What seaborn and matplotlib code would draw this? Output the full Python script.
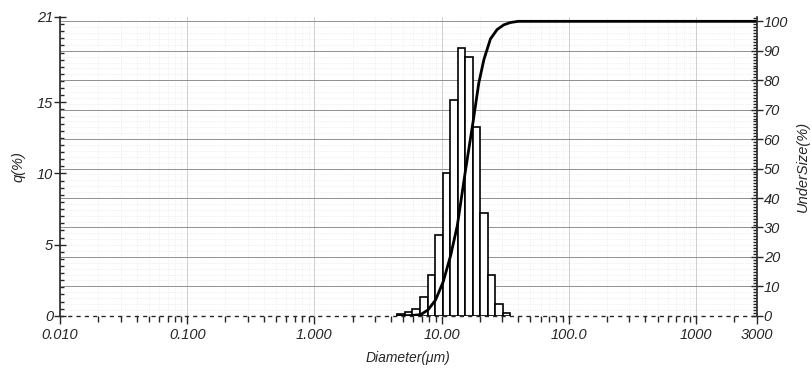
import matplotlib
matplotlib.use('Agg')
import matplotlib.pyplot as plt
import matplotlib.ticker as mticker
import seaborn as sns
import pandas as pd
import numpy as np

# bin edges (um) and frequency q(%)
bin_edges = [4.49, 5.15, 5.90, 6.76, 7.75, 8.88, 10.2, 11.7, 13.4, 15.3,
             17.6, 20.1, 23.1, 26.4, 30.3, 34.8]
q_pct = [0.1, 0.25, 0.5, 1.3, 2.85, 5.7, 10.05, 15.15, 18.8, 18.15,
         13.3, 7.25, 2.9, 0.85, 0.2]

# cumulative undersize curve (um, %)
cum_x = [4.49, 5.71, 6.84, 7.81, 8.97, 10.3, 11.8, 13.3, 15.4, 17.7,
         19.6, 21.5, 24.2, 27.3, 30.8, 34.8, 40.0, 3000]
cum_y = [0.0, 0.1, 0.4, 2.0, 5.4, 11.6, 20.6, 30.7, 49.3, 66.0,
         79.0, 87.0, 94.0, 97.2, 98.8, 99.6, 100.0, 100.0]

tick_vals = [0.01, 0.1, 1, 10, 100, 1000, 3000]
tick_labels = ['0.010', '0.100', '1.000', '10.00', '100.0', '1000', '3000']

sns.set_style('white')
plt.rcParams['font.family'] = ['Liberation Sans', 'DejaVu Sans']
plt.rcParams['font.style'] = 'italic'

fig = plt.figure(figsize=(8.11, 3.76), dpi=100)
ax = fig.add_axes([0.074, 0.160, 0.859, 0.795])
ax2 = ax.twinx()

df = pd.DataFrame({
    'd': [np.sqrt(bin_edges[i] * bin_edges[i + 1]) for i in range(len(q_pct))],
    'q': q_pct,
})
log_edges = [float(np.log10(e)) for e in bin_edges]
sns.histplot(data=df, x='d', weights='q', bins=log_edges, log_scale=True,
             ax=ax, color='white', edgecolor='black', linewidth=1.2, alpha=1,
             zorder=3)

ax.set_xlim(0.01, 3000)
ax.set_ylim(0, 21)
ax2.set_ylim(0, 101.5)

# background grid (behind the bars)
for v in range(10, 101, 10):
    ax.axhline(v * 21 / 101.5, color='#909090', lw=0.7, zorder=1)
for v in range(2, 101, 2):
    ax.axhline(v * 21 / 101.5, color='#e2e2e2', lw=0.5, ls=':', zorder=0)
ax.grid(which='major', axis='x', color='#cfcfcf', lw=0.7, zorder=0)
ax.grid(which='minor', axis='x', color='#e4e4e4', lw=0.5, ls=':', zorder=0)
ax.set_axisbelow(True)

sns.lineplot(x=cum_x, y=cum_y, ax=ax2, color='black', lw=2.0, sort=False)

# x axis
ax.xaxis.set_major_locator(mticker.FixedLocator(tick_vals))
ax.xaxis.set_major_formatter(mticker.FixedFormatter(tick_labels))
ax.xaxis.set_minor_locator(mticker.LogLocator(base=10, subs=np.arange(2, 10)))
ax.xaxis.set_minor_formatter(mticker.NullFormatter())
ax.tick_params(axis='x', which='major', direction='out', length=6, width=1,
               labelsize=10.5, pad=3, bottom=True)
ax.tick_params(axis='x', which='minor', direction='out', length=4, width=1,
               bottom=True)

# left axis
ax.set_yticks([0, 5, 10, 15, 21])
ax.yaxis.set_minor_locator(mticker.MultipleLocator(0.5))
ax.tick_params(axis='y', which='major', direction='inout', length=8, width=1,
               labelsize=10.5, pad=1, left=True)
ax.tick_params(axis='y', which='minor', direction='in', length=3, width=1,
               left=True)

# right axis
ax2.set_yticks(range(0, 101, 10))
ax2.yaxis.set_minor_locator(mticker.MultipleLocator(1))
ax2.tick_params(axis='y', which='major', direction='inout', length=8, width=1,
                labelsize=10.5, pad=1, right=True)
ax2.tick_params(axis='y', which='minor', direction='in', length=3, width=1,
                right=True)

for a in (ax, ax2):
    a.spines['top'].set_visible(False)
    a.spines['left'].set_linewidth(1.2)
    a.spines['right'].set_linewidth(1.2)
ax.spines['bottom'].set_linestyle((0, (2, 4)))
ax.spines['bottom'].set_linewidth(1.0)
ax2.spines['bottom'].set_visible(False)
ax.spines['right'].set_visible(False)
ax2.spines['left'].set_visible(False)

ax.set_xlabel('Diameter(μm)', fontsize=10, labelpad=6)
ax.set_ylabel('q(%)', fontsize=10.5, labelpad=8)
ax2.set_ylabel('UnderSize(%)', fontsize=10.5, labelpad=6)

fig.savefig('out.png', dpi=100)
